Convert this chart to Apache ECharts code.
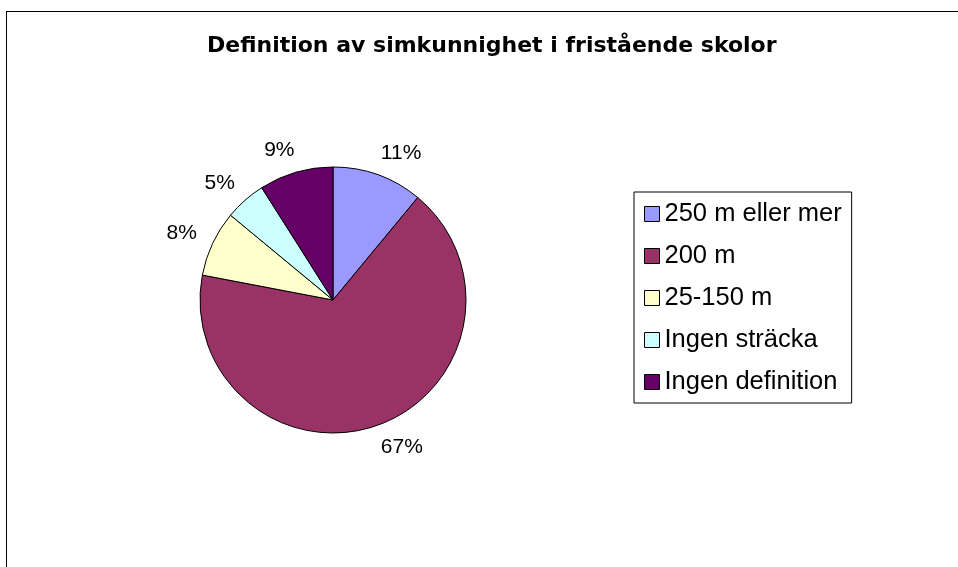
<!DOCTYPE html>
<html>
<head>
<meta charset="utf-8">
<title>Definition av simkunnighet i fristående skolor</title>
<script src="https://cdn.jsdelivr.net/npm/echarts@6/dist/echarts.min.js"></script>
<style>
    html, body { margin: 0; padding: 0; overflow: hidden; background: #fff; }
    #frame { position: absolute; left: 6px; top: 11px; width: 1100px; height: 700px; border: 1px solid #000; }
    #main { position: absolute; left: 0; top: 0; width: 958px; height: 567px; }
</style>
</head>
<body>
<div id="frame"></div>
<div id="main"></div>
<script>
// kategorier och andelar (%)
var categories = ['250 m eller mer', '200 m', '25-150 m', 'Ingen sträcka', 'Ingen definition']
var shares = [11, 67, 8, 5, 9]
var colors = ['#9999ff', '#993366', '#ffffcc', '#ccffff', '#660066']

function initChart () {
    var myChart = echarts.init(document.getElementById('main'))
    var option = {
        animation: false,
        title: {
            text: 'Definition av simkunnighet i fristående skolor',
            left: 207,
            top: 35,
            padding: 0,
            textStyle: {
                fontFamily: 'DejaVu Sans',
                fontWeight: 'bold',
                fontSize: 22,
                color: '#000'
            }
        },
        legend: {
            orient: 'vertical',
            left: 634,
            top: 192,
            padding: [9, 10, 8, 10],
            borderColor: '#000',
            borderWidth: 1,
            itemWidth: 15,
            itemHeight: 15,
            itemGap: 16,
            icon: 'rect',
            itemStyle: {
                borderColor: '#000',
                borderWidth: 1
            },
            textStyle: {
                fontFamily: 'Liberation Sans',
                fontSize: 25.5,
                lineHeight: 25,
                color: '#000'
            },
            data: categories
        },
        color: colors,
        series: [
            {
                name: 'Simkunnighet',
                type: 'pie',
                center: [333, 300],
                radius: 133,
                startAngle: 90,
                clockwise: true,
                avoidLabelOverlap: false,
                silent: true,
                itemStyle: {
                    borderColor: '#000',
                    borderWidth: 1
                },
                label: {
                    show: true,
                    position: 'outside',
                    formatter: '{c}%',
                    fontFamily: 'Liberation Sans',
                    fontSize: 21,
                    color: '#000'
                },
                labelLine: {
                    show: false,
                    length: 23,
                    length2: -10
                },
                data: categories.map(function (name, i) {
                    return { name: name, value: shares[i] }
                })
            }
        ]
    }
    myChart.setOption(option)
}

initChart()
</script>
</body>
</html>
